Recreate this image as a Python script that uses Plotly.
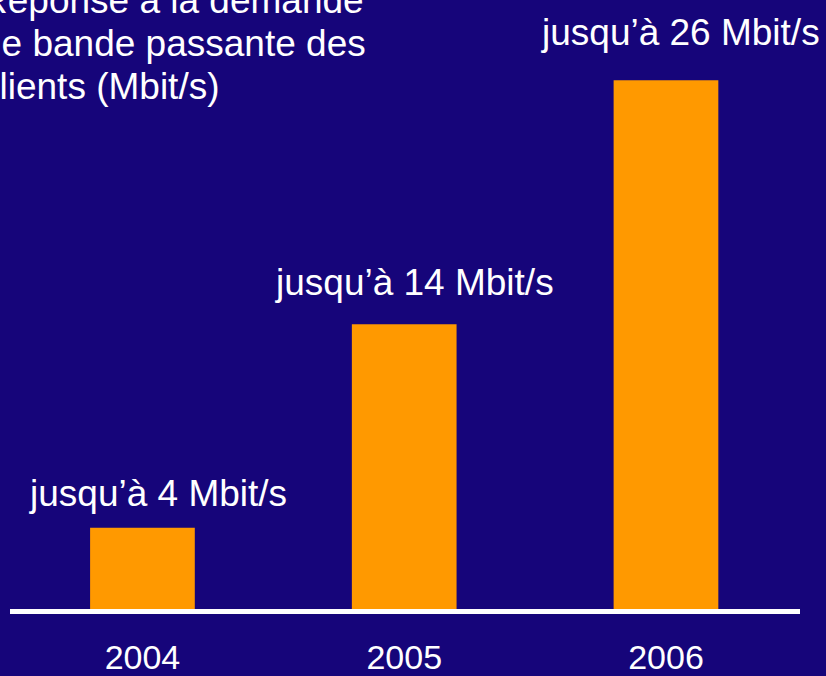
import plotly.graph_objects as go

years = ["2004", "2005", "2006"]
bandwidth = [4, 14, 26]
value_labels = ["jusqu’à 4 Mbit/s", "jusqu’à 14 Mbit/s", "jusqu’à 26 Mbit/s"]
title_lines = ["Réponse à la demande", "de bande passante des", "clients (Mbit/s)"]

BG = "#16057A"
ORANGE = "#FF9900"
FONT = "Liberation Sans, Arial, sans-serif"

W, H = 826, 676
L, R, T, B = 10, 26, 0, 61
PW, PH = W - L - R, H - T - B

fig = go.Figure(go.Bar(
    x=years, y=bandwidth, marker=dict(color=ORANGE, line=dict(width=0)),
    width=0.40, hoverinfo="skip",
))

xshifts = [16, 10, 15]
yshifts = [12, 19, 25]
for i, (v, lab) in enumerate(zip(bandwidth, value_labels)):
    fig.add_annotation(xref="x", yref="y", x=i, y=v, text=lab, showarrow=False,
                       xanchor="center", yanchor="bottom",
                       xshift=xshifts[i], yshift=yshifts[i],
                       font=dict(family=FONT, size=37, color="white"))

# title block, partially cut at left/top like the reference
title_x_px = -21
title_baselines_px = [10, 53.5, 97]
for line, by in zip(title_lines, title_baselines_px):
    fig.add_annotation(xref="paper", yref="paper",
                       x=(title_x_px - L) / PW, y=(H - B - by) / PH,
                       text=line, showarrow=False, xanchor="left", yanchor="bottom",
                       yshift=-13, align="left",
                       font=dict(family=FONT, size=37, color="white"))

fig.update_layout(
    width=W, height=H, margin=dict(l=L, r=R, t=T, b=B),
    paper_bgcolor=BG, plot_bgcolor=BG, showlegend=False,
    xaxis=dict(type="category", range=[-0.506, 2.512], showgrid=False, zeroline=False,
               showline=True, linecolor="white", linewidth=5, ticks="",
               tickfont=dict(family=FONT, size=34, color="white"),
               ticklabelstandoff=14),
    yaxis=dict(range=[0, 29.95], showticklabels=False, showgrid=False,
               zeroline=False, showline=False, ticks=""),
)

fig.write_html("out.html", config={"displayModeBar": False},
               post_script="document.body.style.margin='0';document.body.style.overflow='hidden';")
